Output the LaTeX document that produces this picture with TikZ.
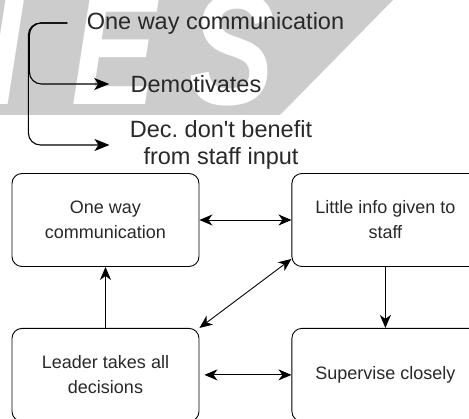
\documentclass[tikz,border=0pt]{standalone}
\usepackage{fontspec}
\setmainfont{Liberation Sans}[Ligatures=TeXOff]
\usetikzlibrary{arrows.meta}
\usetikzlibrary{positioning}
\definecolor{wmgray}{RGB}{204,204,204}
\definecolor{txtgray}{RGB}{40,40,40}

\begin{document}
\begin{tikzpicture}[x=1pt,y=-1pt,>={Stealth[length=13pt,width=11pt,inset=4pt]},
                    line width=0.9pt,
                    box/.style={draw,rounded corners=10pt,minimum width=187pt,minimum height=93pt,
                                align=center,text=txtgray,font=\fontsize{18}{25}\selectfont},
                    note/.style={align=center,text=txtgray,inner sep=2pt,
                                 font=\fontsize{23.5}{27}\selectfont},
                    bigtip/.style={-{Stealth[length=15pt,width=12pt,inset=4pt]},line width=1.1pt},
                    wmletter/.style={anchor=base,inner sep=0pt,text=white,xscale=0.8,
                                     font=\fontsize{160}{160}\selectfont\bfseries\itshape}]
\useasboundingbox (0,0) rectangle (469,419);

% watermark
\begin{scope}
  \clip (0,0) -- (393,0) -- (280,115) -- (0,115) -- cycle;
  \fill[wmgray] (0,0) rectangle (469,115);
  \node[wmletter] (wmi) at (5,105) {I};
  \node[wmletter] (wme) at (114,105) {E};
  \node[wmletter] (wms) at (232,105) {S};
\end{scope}

% top notes
\node[note] (owc) at (215.5,23) {One way communication};
\node[note] (demot) at (196,84) {Demotivates};
\node[note] (dec) at (221,145) {Dec.\ don't benefit\\from staff input};
\coordinate (owcl) at ([xshift=-17pt]owc.west);

\draw[bigtip,rounded corners=12pt,shorten >=19pt] (owcl) -- ++(-38,0) |- (demot.west);
\draw[bigtip,rounded corners=12pt,shorten >=18pt] (owcl) -- ++(-39,0) |- (dec.west);

% boxes
\node[box] (one) at (105.5,220) {One way\\communication};
\node[box,right=92pt of one] (info) {Little info given to\\staff};
\node[box,below=61pt of one] (lead) {Leader takes all\\decisions};
\node[box,below=61pt of info] (sup) {Supervise closely};

\draw[<->] (one) -- (info);
\draw[->] (lead) -- (one);
\draw[->] (info) -- (sup);
\draw[<->,shorten <=5pt] (lead) -- (sup);
\draw[<->] (lead.north east) -- ([yshift=8pt]info.south west);

\end{tikzpicture}
\end{document}
